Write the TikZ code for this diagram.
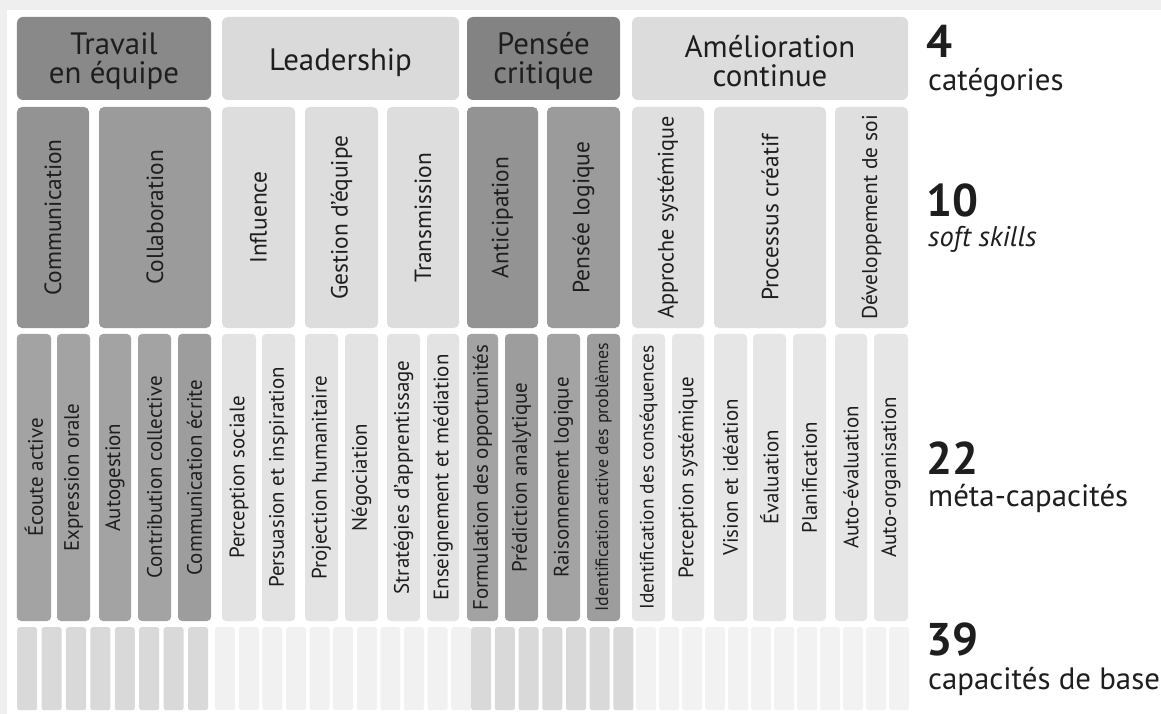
\documentclass[tikz,border=0pt]{standalone}
\usepackage{fontspec}
\setmainfont{PT Sans}
\definecolor{txt}{HTML}{1E1E1E}
\definecolor{outer}{HTML}{EFEFEF}
\definecolor{catD}{HTML}{898989}
\definecolor{catDb}{HTML}{838383}
\definecolor{catL}{HTML}{DADADA}
\definecolor{catLb}{HTML}{DCDCDC}
\definecolor{softDa}{HTML}{939393}
\definecolor{softDb}{HTML}{9B9B9B}
\definecolor{softL}{HTML}{DDDDDD}
\definecolor{softLb}{HTML}{DFDFDF}
\definecolor{metaD}{HTML}{A3A3A3}
\definecolor{metaDb}{HTML}{9D9D9D}
\definecolor{metaL}{HTML}{E3E3E3}
\definecolor{metaLb}{HTML}{E6E6E6}
\definecolor{baseD}{HTML}{D9D9D9}
\definecolor{baseL}{HTML}{F1F1F1}
\definecolor{baseLb}{HTML}{F2F2F2}
\tikzset{
  catbox/.style={rounded corners=6bp, inner sep=0pt, align=center,
    font=\fontsize{31}{29}\selectfont, text=txt},
  softbox/.style={rounded corners=5bp, inner sep=0pt, rotate=90,
    font=\fontsize{23.5}{23.5}\selectfont, text=txt},
  metabox/.style={rounded corners=4bp, inner sep=0pt, rotate=90,
    font=\fontsize{21}{21}\selectfont, text=txt},
  basebar/.style={rounded corners=2.5bp, inner sep=0pt, minimum width=20bp,
    minimum height=83bp, anchor=north west},
  numtext/.style={font=\bfseries\fontsize{46}{46}\selectfont, anchor=base west,
    inner sep=0pt, text=txt},
  labtext/.style={font=\fontsize{31}{31}\selectfont, anchor=base west,
    inner sep=0pt, text=txt},
}
\newcommand\catTwo{\rule{0pt}{28bp}}
\newcommand\catOne{\rule{0pt}{30bp}}
% #1 style, #2 name, #3 x1, #4 x2, #5 y1, #6 y2, #7 fill, #8 text
\newcommand\mkRot[8]{%
  \pgfmathsetmacro\mkCX{(#3+#4)/2}\pgfmathsetmacro\mkCY{(#5+#6)/2}%
  \pgfmathsetmacro\mkW{#4-#3}\pgfmathsetmacro\mkH{#6-#5}%
  \node[#1, fill=#7, minimum width=\mkH bp, minimum height=\mkW bp] (#2) at (\mkCX,\mkCY) {#8};}
\newcommand\mkCat[7]{%
  \pgfmathsetmacro\mkCX{(#2+#3)/2}\pgfmathsetmacro\mkCY{(#4+#5)/2}%
  \pgfmathsetmacro\mkW{#3-#2}\pgfmathsetmacro\mkH{#5-#4}%
  \node[catbox, fill=#6, minimum width=\mkW bp, minimum height=\mkH bp] (#1) at (\mkCX,\mkCY) {#7};}
\begin{document}
\begin{tikzpicture}[x=1bp,y=-1bp]
\useasboundingbox (0,0) rectangle (1161,714);
\fill[outer] (0,0) rectangle (1161,714);
\fill[white] (7,10) rectangle (1161,714);
% categories
\mkCat{cTrav}{17}{211}{17}{100}{catD}{\catTwo Travail\\en équipe}
\mkCat{cLead}{222}{459}{17}{100}{catL}{\catOne Leadership}
\mkCat{cPens}{467}{620}{17}{100}{catDb}{\catTwo Pensée\\critique}
\mkCat{cAmel}{632}{908}{17}{100}{catLb}{\catTwo Amélioration\\continue}
% soft skills
\mkRot{softbox}{sComm}{17}{89}{107}{328}{softDa}{Communication}
\mkRot{softbox}{sColl}{99}{211}{107}{328}{softDb}{Collaboration}
\mkRot{softbox}{sInfl}{222}{295}{107}{328}{softL}{Influence}
\mkRot{softbox}{sGest}{305}{378}{107}{328}{softL}{Gestion d’équipe}
\mkRot{softbox}{sTran}{387}{459}{107}{328}{softL}{Transmission}
\mkRot{softbox}{sAnti}{467}{538}{107}{328}{softDa}{Anticipation}
\mkRot{softbox}{sLogi}{547}{620}{107}{328}{softDb}{Pensée logique}
\mkRot{softbox}{sAppr}{632}{704}{107}{328}{softLb}{\fontsize{22.3}{22.3}\selectfont Approche systémique}
\mkRot{softbox}{sProc}{714}{826}{107}{328}{softLb}{Processus créatif}
\mkRot{softbox}{sDeve}{835}{908}{107}{328}{softLb}{\fontsize{21.5}{21.5}\selectfont Développement de soi}
% meta-capacities
\mkRot{metabox}{m01}{17}{51}{334}{621}{metaD}{Écoute active}
\mkRot{metabox}{m02}{57}{90}{334}{621}{metaD}{Expression orale}
\mkRot{metabox}{m03}{99}{131}{334}{621}{metaD}{Autogestion}
\mkRot{metabox}{m04}{138}{171}{334}{621}{metaD}{Contribution collective}
\mkRot{metabox}{m05}{178}{211}{334}{621}{metaDb}{Communication écrite}
\mkRot{metabox}{m06}{222}{256}{334}{621}{metaL}{Perception sociale}
\mkRot{metabox}{m07}{262}{295}{334}{621}{metaL}{Persuasion et inspiration}
\mkRot{metabox}{m08}{305}{338}{334}{621}{metaL}{Projection humanitaire}
\mkRot{metabox}{m09}{345}{378}{334}{621}{metaL}{Négociation}
\mkRot{metabox}{m10}{387}{420}{334}{621}{metaL}{Stratégies d’apprentissage}
\mkRot{metabox}{m11}{427}{459}{334}{621}{metaL}{Enseignement et médiation}
\mkRot{metabox}{m12}{467}{498}{334}{621}{metaD}{Formulation des opportunités}
\mkRot{metabox}{m13}{505}{538}{334}{621}{metaDb}{Prédiction analytique}
\mkRot{metabox}{m14}{547}{580}{334}{621}{metaD}{Raisonnement logique}
\mkRot{metabox}{m15}{587}{620}{334}{621}{metaDb}{\fontsize{18}{18}\selectfont Identification active des problèmes}
\mkRot{metabox}{m16}{632}{665}{334}{621}{metaLb}{\fontsize{19.5}{19.5}\selectfont Identification des conséquences}
\mkRot{metabox}{m17}{672}{704}{334}{621}{metaLb}{Perception systémique}
\mkRot{metabox}{m18}{714}{747}{334}{621}{metaLb}{Vision et idéation}
\mkRot{metabox}{m19}{753}{786}{334}{621}{metaLb}{Évaluation}
\mkRot{metabox}{m20}{793}{826}{334}{621}{metaLb}{Planification}
\mkRot{metabox}{m21}{835}{867}{334}{621}{metaLb}{Auto-évaluation}
\mkRot{metabox}{m22}{874}{908}{334}{621}{metaLb}{Auto-organisation}
% base capacities
\foreach \i in {0,...,7} {\node[basebar, fill=baseD] (bT\i) at ({17+\i*24.4},627) {};}
\foreach \i in {0,...,10} {\node[basebar, fill=baseL] (bL\i) at ({215+\i*23.6},627) {};}
\foreach \i in {0,...,6} {\node[basebar, fill=baseD] (bP\i) at ({471+\i*23.7},627) {};}
\foreach \i in {0,...,11} {\node[basebar, fill=baseLb] (bA\i) at ({636+\i*23.0},627) {};}
% right labels
\node[numtext] (n4) at (926,58) {4};
\node[labtext] (l4) at (928,91) {catégories};
\node[numtext] (n10) at (926,217) {10};
\node[labtext, font=\itshape\fontsize{28.5}{28.5}\selectfont] (l10) at (928,246) {soft skills};
\node[numtext] (n22) at (926,474) {22};
\node[labtext] (l22) at (928,506) {méta-capacités};
\node[numtext] (n39) at (926,655) {39};
\node[labtext] (l39) at (928,689) {capacités de base};
\end{tikzpicture}
\end{document}
